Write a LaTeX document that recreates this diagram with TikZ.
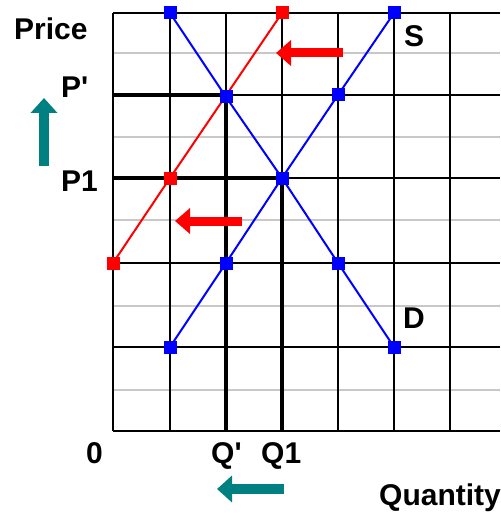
\documentclass[tikz,border=0pt]{standalone}
\usepackage{fontspec}
\setmainfont{Liberation Sans}
\usetikzlibrary{arrows.meta}
\definecolor{myblue}{RGB}{0,0,255}
\definecolor{myred}{RGB}{255,0,0}
\definecolor{myteal}{RGB}{0,128,128}
\definecolor{mygray}{RGB}{200,200,200}
\begin{document}
\begin{tikzpicture}[x=1pt,y=-1pt,
  gridminor/.style={draw=mygray,line width=1.8pt},
  gridmajor/.style={draw=black,line width=1.8pt},
  gridthick/.style={draw=black,line width=3.2pt},
  curveb/.style={draw=myblue,line width=2pt},
  curver/.style={draw=myred,line width=2pt},
  sqb/.style={rectangle,fill=myblue,minimum size=13pt,inner sep=0pt},
  sqr/.style={rectangle,fill=myred,minimum size=13pt,inner sep=0pt},
  lbl/.style={inner sep=0pt,anchor=base west,font=\bfseries\fontsize{30}{35}\selectfont},
  redshift/.style={draw=myred,line width=9pt,-{Triangle[length=15pt,width=25pt]}},
  tealshift/.style={draw=myteal,line width=10pt,-{Triangle[length=15pt,width=26pt]}},
]
\useasboundingbox (0,0) rectangle (500,513);
% grid
\foreach \y in {53,137,220,306,390} \draw[gridminor] (113,\y) -- (500,\y);
\foreach \x in {113,170,226,282,338,394,450} \draw[gridmajor] (\x,13) -- (\x,431);
\foreach \y in {13,95,178,263,347,431} \draw[gridmajor] (113,\y) -- (500,\y);
\draw[gridthick] (113,95) -- (226,95) -- (226,431);
\draw[gridthick] (113,178) -- (282,178) -- (282,431);
% positions
\coordinate (pD1) at (170,13);
\coordinate (pD2) at (226,97);
\coordinate (pD3) at (282,178);
\coordinate (pD4) at (338,263);
\coordinate (pD5) at (394,347);
\coordinate (pS1) at (170,347);
\coordinate (pS2) at (226,263);
\coordinate (pS3) at (282,178);
\coordinate (pS4) at (338,95);
\coordinate (pS5) at (394,13);
\coordinate (pR1) at (113,263);
\coordinate (pR2) at (170,178);
\coordinate (pR3) at (282,13);
% curves
\draw[curver] (pR1) -- (pR2) -- (pR3);
\draw[curveb] (pD1) -- (pD2) -- (pD3) -- (pD4) -- (pD5);
\draw[curveb] (pS1) -- (pS2) -- (pS3) -- (pS4) -- (pS5);
% squares
\node[sqr] (R1) at (pR1) {};
\node[sqr] (R2) at (pR2) {};
\node[sqr] (R3) at (pR3) {};
\node[sqb] (D1) at (pD1) {};
\node[sqb] (D2) at (pD2) {};
\node[sqb] (D3) at (pD3) {};
\node[sqb] (D4) at (pD4) {};
\node[sqb] (D5) at (pD5) {};
\node[sqb] (S1) at (pS1) {};
\node[sqb] (S2) at (pS2) {};
\node[sqb] (S4) at (pS4) {};
\node[sqb] (S5) at (pS5) {};
% shift arrows
\coordinate (ra1t) at (343,53);
\coordinate (ra1h) at (276,53);
\coordinate (ra2t) at (242,221);
\coordinate (ra2h) at (175,221);
\coordinate (ta1t) at (44,166);
\coordinate (ta1h) at (44,98);
\coordinate (ta2t) at (284,489);
\coordinate (ta2h) at (217,489);
\draw[redshift] (ra1t) -- (ra1h);
\draw[redshift] (ra2t) -- (ra2h);
\draw[tealshift] (ta1t) -- (ta1h);
\draw[tealshift] (ta2t) -- (ta2h);
% labels
\node[lbl] (price) at (14,40) {Price};
\node[lbl] (pprime) at (61,98) {P\textquotesingle};
\node[lbl] (pone) at (61,191) {P1};
\node[lbl] (zero) at (86,463) {0};
\node[lbl] (qprime) at (211,463) {Q\textquotesingle};
\node[lbl] (qone) at (261,463) {Q1};
\node[lbl] (qty) at (379,505) {Quantity};
\node[lbl] (slbl) at (404,47) {S};
\node[lbl] (dlbl) at (403,328) {D};
\end{tikzpicture}
\end{document}
